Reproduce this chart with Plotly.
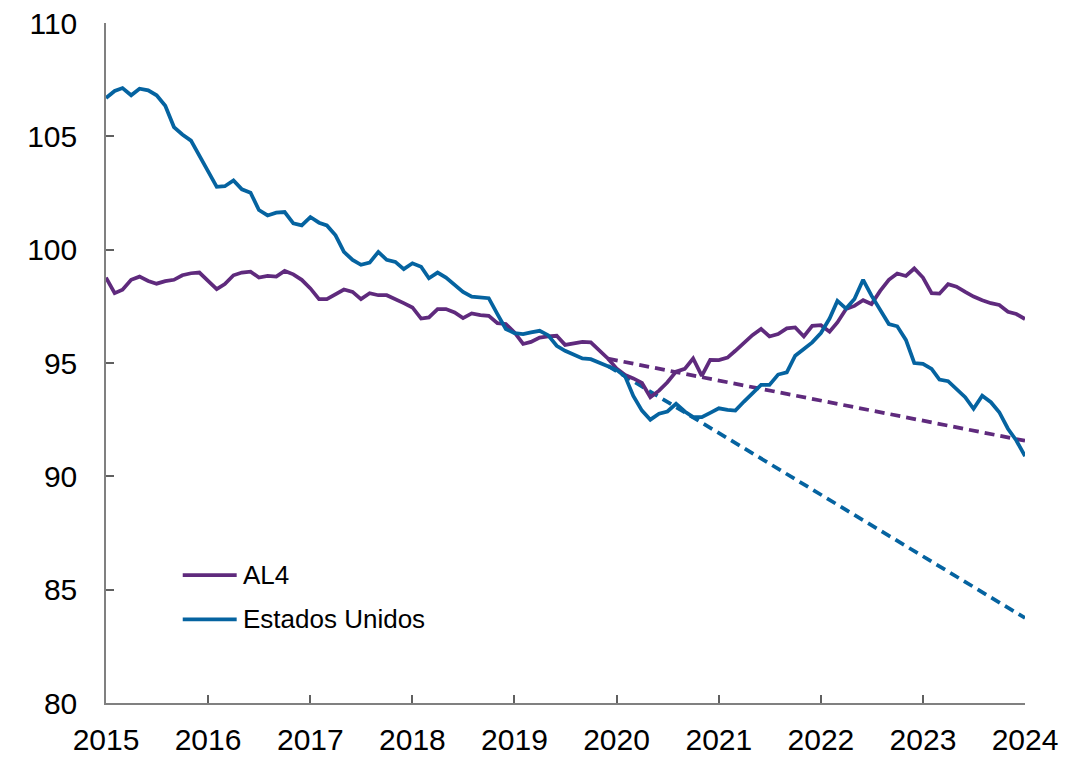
import plotly.graph_objects as go
import pandas as pd

dates = pd.date_range("2015-01-01", "2024-01-01", freq="MS").strftime("%Y-%m-%d").tolist()

al4 = [
    98.77, 98.08, 98.23, 98.67, 98.81, 98.62, 98.50, 98.61, 98.67, 98.87, 98.96, 98.99,
    98.62, 98.26, 98.48, 98.87, 98.99, 99.03, 98.77, 98.84, 98.81, 99.06, 98.91, 98.67,
    98.29, 97.82, 97.82, 98.02, 98.24, 98.14, 97.82, 98.08, 97.99, 97.99, 97.79, 97.64,
    97.45, 96.96, 97.01, 97.38, 97.38, 97.23, 96.98, 97.19, 97.11, 97.08, 96.76, 96.72,
    96.35, 95.84, 95.93, 96.12, 96.17, 96.20, 95.80, 95.88, 95.93, 95.91, 95.57, 95.20,
    94.76, 94.47, 94.32, 94.12, 93.49, 93.78, 94.15, 94.62, 94.74, 95.20, 94.43, 95.14,
    95.13, 95.24, 95.54, 95.91, 96.23, 96.50, 96.17, 96.28, 96.53, 96.57, 96.17, 96.64,
    96.67, 96.38, 96.79, 97.38, 97.52, 97.77, 97.60, 98.18, 98.67, 98.95, 98.84, 99.17,
    98.77, 98.08, 98.06, 98.48, 98.37, 98.14, 97.93, 97.77, 97.64, 97.56, 97.26, 97.16,
    96.94,
]

eeuu = [
    106.69, 107.00, 107.13, 106.81, 107.10, 107.03, 106.81, 106.35, 105.41, 105.08, 104.81, 104.15,
    103.46, 102.77, 102.80, 103.05, 102.66, 102.51, 101.75, 101.51, 101.63, 101.66, 101.16, 101.07,
    101.44, 101.19, 101.07, 100.63, 99.90, 99.55, 99.33, 99.43, 99.90, 99.55, 99.46, 99.14,
    99.40, 99.25, 98.74, 98.99, 98.77, 98.43, 98.14, 97.93, 97.89, 97.86, 97.16, 96.50,
    96.32, 96.28, 96.35, 96.42, 96.23, 95.76, 95.54, 95.35, 95.20, 95.17, 95.00, 94.85,
    94.70, 94.40, 93.55, 92.90, 92.50, 92.76, 92.86, 93.20, 92.86, 92.61, 92.61, 92.80,
    93.00, 92.93, 92.90, 93.30, 93.66, 94.03, 94.03, 94.49, 94.59, 95.32, 95.62, 95.91,
    96.32, 96.96, 97.74, 97.40, 97.82, 98.67, 97.97, 97.31, 96.72, 96.62, 96.02, 95.00,
    94.96, 94.74, 94.27, 94.20, 93.86, 93.49, 92.98, 93.56, 93.27, 92.83, 92.10, 91.58,
    90.89,
]

trend_dates = ["2019-12-01", "2024-01-01"]
al4_trend = [95.19, 91.57]
eeuu_trend = [94.87, 83.75]

names = ["AL4", "Estados Unidos"]
colors = ["#5F2A7D", "#0563A0"]

y_ticks = [80, 85, 90, 95, 100, 105, 110]
x_ticks = [f"{y}-01-01" for y in range(2015, 2025)]
x_labels = [str(y) for y in range(2015, 2025)]

LW = 3.75
FONT = "Liberation Sans, Arial, sans-serif"

fig = go.Figure()
fig.add_trace(go.Scatter(x=trend_dates, y=eeuu_trend, mode="lines",
                         line=dict(color=colors[1], width=LW, dash="10px,6px"),
                         showlegend=False, hoverinfo="skip"))
fig.add_trace(go.Scatter(x=trend_dates, y=al4_trend, mode="lines",
                         line=dict(color=colors[0], width=LW, dash="10px,6px"),
                         showlegend=False, hoverinfo="skip"))
fig.add_trace(go.Scatter(x=dates, y=al4, mode="lines", name=names[0],
                         line=dict(color=colors[0], width=LW), showlegend=False))
fig.add_trace(go.Scatter(x=dates, y=eeuu, mode="lines", name=names[1],
                         line=dict(color=colors[1], width=LW), showlegend=False))

# manual legend
leg_x0, leg_x1, leg_tx = 0.0835, 0.1422, 0.1469
leg_y = [0.1882, 0.1231]
for name, col, ly in zip(names, colors, leg_y):
    fig.add_shape(type="line", xref="paper", yref="paper",
                  x0=leg_x0, x1=leg_x1, y0=ly, y1=ly,
                  line=dict(color=col, width=LW))
    fig.add_annotation(xref="paper", yref="paper", x=leg_tx, y=ly,
                       text=name, showarrow=False, xanchor="left", yanchor="middle",
                       font=dict(family=FONT, size=26, color="black"))

axis_common = dict(
    showgrid=False, zeroline=False, showline=True, automargin=False,
    linecolor="#808080", linewidth=1.5,
    ticks="inside", ticklen=8, tickwidth=1.5, tickcolor="#606060",
    tickfont=dict(family=FONT, size=30, color="black"),
)

fig.update_layout(
    width=1086, height=758,
    margin=dict(l=106, r=61, t=23, b=55),
    paper_bgcolor="white", plot_bgcolor="white",
    font=dict(family=FONT, color="black"),
    xaxis=dict(type="date", range=["2015-01-01", "2024-01-01"],
               tickvals=x_ticks, ticktext=x_labels,
               ticklabelstandoff=9, **axis_common),
    yaxis=dict(range=[80, 110], tickvals=y_ticks,
               ticklabelstandoff=21, **axis_common),
)

fig.write_html("out.html", config={"displayModeBar": False},
               post_script="document.body.style.margin='0';document.body.style.overflow='hidden';")
